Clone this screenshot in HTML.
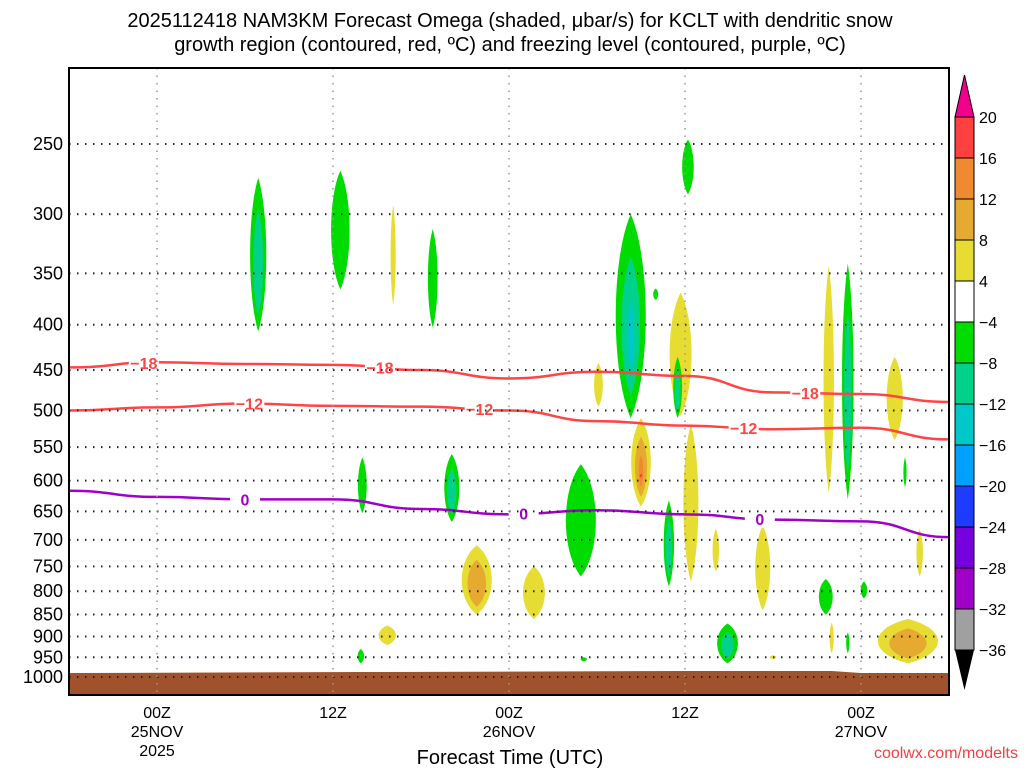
<!DOCTYPE html>
<html><head><meta charset="utf-8"><style>
body{margin:0;background:#fff;}
svg{display:block;font-family:"Liberation Sans","DejaVu Sans",sans-serif;}
</style></head><body>
<svg id="c" width="1024" height="768" viewBox="0 0 1024 768">
<text x="510" y="27" text-anchor="middle" font-size="20">2025112418 NAM3KM Forecast Omega (shaded, μbar/s) for KCLT with dendritic snow</text>
<text x="510" y="51" text-anchor="middle" font-size="20">growth region (contoured, red, ºC) and freezing level (contoured, purple, ºC)</text>
<g id="plot"></g>
<text x="510" y="764" text-anchor="middle" font-size="20">Forecast Time (UTC)</text>
<text x="1018" y="758" text-anchor="end" font-size="16" fill="#f04040">coolwx.com/modelts</text>
</svg>
<script>
// ---- data ----
const timeHours=[0,6,12,18,24,30,36,42,48,54,60];
const iso18P=[447,441,443,444,450,460,452,457,477,479,489];
const iso12P=[500,496,491,494,495,500,514,520,525,523,539];
const iso0P=[616,626,630,630,646,655,648,655,664,667,695];
const pLevels=[250,300,350,400,450,500,550,600,650,700,750,800,850,900,950,1000];
const xTickHours=[6,18,30,42,54];
const xTickLabels=[["00Z","25NOV","2025"],["12Z"],["00Z","26NOV"],["12Z"],["00Z","27NOV"]];
const cbLevels=["20","16","12","8","4","−4","−8","−12","−16","−20","−24","−28","−32","−36"];
const cbColors=["#ff4040","#f08a30","#e6aa30","#e6dc32","#ffffff","#00dc00","#00d28c","#00c8c8","#00a0ff","#1e3cff","#7800dc","#a000c8","#a0a0a0"];
// blobs: center hour, top pressure, bottom pressure, half-width (hours), peak omega
const blobHour=[12.9,18.5,22.1,24.8,36.1,38.3,40.0,41.7,41.5,42.2,39.0,42.4,20.0,26.1,34.9,40.9,44.1,47.3,27.8,31.7,51.8,53.1,56.3,57.0,58.0,51.6,54.2,21.7,19.9,52.0,53.1,44.9,57.2,35.1,48.0];
const blobTop=[273,268,293,312,442,300,364,368,435,247,510,518,565,560,575,632,680,675,710,750,343,341,435,565,680,775,780,875,930,868,890,870,860,950,945];
const blobBot=[407,365,380,403,495,510,375,507,510,285,642,780,653,668,770,790,760,840,850,860,620,630,540,610,770,850,815,920,965,940,940,965,965,960,955];
const blobW=[0.7,0.8,0.22,0.42,0.38,1.3,0.22,0.95,0.38,0.5,0.85,0.65,0.38,0.65,1.3,0.45,0.28,0.65,1.3,0.95,0.45,0.5,0.7,0.14,0.28,0.6,0.28,0.75,0.28,0.18,0.14,0.9,2.6,0.28,0.28];
const blobPeak=[-9,-5,5,-5,5,-13,-5,5,-9,-5,18,5,-5,-9,-5,-9,5,5,9,5,5,-9,5,-5,5,-5,-5,5,-5,5,-5,-9,9,-5,5];

// ---- axes ----
const X0=69,X1=949,Y0=68,Y1=695,H0=0,H1=60;
const xS=h=>X0+(h-H0)/(H1-H0)*(X1-X0);
const yS=p=>144+384.5*Math.log(p/250);
const NS="http://www.w3.org/2000/svg";
const plot=document.getElementById('plot');
function mk(tag,attrs,parent){const e=document.createElementNS(NS,tag);for(const k in attrs)e.setAttribute(k,attrs[k]);(parent||plot).appendChild(e);return e;}
const cp=mk('clipPath',{id:'pc'});mk('rect',{x:X0,y:Y0,width:X1-X0,height:Y1-Y0},cp);
const g=mk('g',{'clip-path':'url(#pc)'});



function bandColor(v){
  if(v>=16)return cbColors[0];if(v>=12)return cbColors[1];if(v>=8)return cbColors[2];if(v>=4)return cbColors[3];
  if(v<=-32)return cbColors[12];if(v<=-28)return cbColors[11];if(v<=-24)return cbColors[10];if(v<=-20)return cbColors[9];
  if(v<=-16)return cbColors[8];if(v<=-12)return cbColors[7];if(v<=-8)return cbColors[6];return cbColors[5];}
blobHour.forEach((h,i)=>{
  const pk=blobPeak[i],a=Math.abs(pk);const n=Math.max(1,Math.floor(a/4));
  const yt=yS(blobTop[i]),yb=yS(blobBot[i]),cx=xS(h),w=blobW[i]*(X1-X0)/(H1-H0);
  for(let k=0;k<n;k++){
    const sh=1-k*0.32, sw=1-k*0.38;const cy=(yt+yb)/2+k*(yb-yt)*0.05,hh=(yb-yt)/2*sh,ww=w*sw;
    const t=cy-hh,b=cy+hh;
    const d=`M${cx},${t} C${cx+ww*1.05},${t+hh*0.45} ${cx+ww*1.05},${b-hh*0.45} ${cx},${b} C${cx-ww*1.05},${b-hh*0.45} ${cx-ww*1.05},${t+hh*0.45} ${cx},${t}Z`;
    const e=mk('path',{d:d,fill:bandColor(Math.sign(pk)*(4+4*k+0.1))},g);
    
    
  }
});
// ground
const gr=mk('path',{d:`M${X0},${yS(1000)-4} L${xS(20)},${yS(1000)-5} L${xS(42)},${yS(1000)-6} L${xS(52)},${yS(1000)-6} L${xS(54)},${yS(1000)-4} L${X1},${yS(1000)-4} L${X1},${Y1} L${X0},${Y1}Z`,fill:'#a0522d'},g);


// grid
pLevels.forEach(p=>{const l=mk('line',{x1:X0,x2:X1,y1:yS(p),y2:yS(p),stroke:'#222','stroke-width':2,'stroke-dasharray':'1.5 6.5'});


const t=mk('text',{x:X0-6,y:yS(p)+6,'text-anchor':'end','font-size':18});t.textContent=p;

});
xTickHours.forEach((h,i)=>{const l=mk('line',{x1:xS(h),x2:xS(h),y1:Y0,y2:Y1,stroke:'#999','stroke-width':1.5,'stroke-dasharray':'1.5 6'});


xTickLabels[i].forEach((s,j)=>{const t=mk('text',{x:xS(h),y:718+j*19,'text-anchor':'middle','font-size':16});t.textContent=s;

});});
// contour lines
function contour(arr,color,labels,lbl,name){
  const pts=timeHours.map((h,i)=>[xS(h),yS(arr[i])]);
  let d='M'+pts[0].join(',');
  for(let i=1;i<pts.length;i++){const p0=pts[i-1],p1=pts[i];const mx=(p0[0]+p1[0])/2;d+=` C${mx},${p0[1]} ${mx},${p1[1]} ${p1[0]},${p1[1]}`;}
  const e=mk('path',{d:d,fill:'none',stroke:color,'stroke-width':2.5},g);
  
  
  labels.forEach(h=>{const i=Math.min(timeHours.length-2,Math.floor(h/6));const f=(h-timeHours[i])/6;
    const p=arr[i]+(arr[i+1]-arr[i])*f;const x=xS(h),y=yS(p);
    mk('rect',{x:x-15,y:y-9,width:30,height:18,fill:'#fff'},g);
    const t=mk('text',{x:x,y:y+6,'text-anchor':'middle','font-size':16,'font-weight':'bold',fill:color},g);t.textContent=lbl;
    
    });
}
contour(iso18P,'#ff4444',[5.1,21.2,50.2],'−18','isotherm-minus18');
contour(iso12P,'#ff4444',[12.3,28.0,46.0],'−12','isotherm-minus12');
contour(iso0P,'#a000c8',[12.0,31.0,47.1],'0','freezing-level');
// frame
const fr=mk('rect',{x:X0,y:Y0,width:X1-X0,height:Y1-Y0,fill:'none',stroke:'#000','stroke-width':2});


// colorbar
const CX=955,CW=19,CT=117,BH=41;
const cb=mk('g',{});


cbColors.forEach((c,i)=>{mk('rect',{x:CX,y:CT+i*BH,width:CW,height:BH,fill:c,stroke:'#000','stroke-width':1},cb);});
mk('path',{d:`M${CX},${CT} L${CX+CW/2},${CT-42} L${CX+CW},${CT}Z`,fill:'#f0008c',stroke:'#000'},cb);
mk('path',{d:`M${CX},${CT+13*BH} L${CX+CW/2},${CT+13*BH+40} L${CX+CW},${CT+13*BH}Z`,fill:'#000'},cb);
cbLevels.forEach((s,i)=>{const t=mk('text',{x:979,y:CT+i*BH+6,'font-size':16},cb);t.textContent=s;

});
</script>
</body></html>
